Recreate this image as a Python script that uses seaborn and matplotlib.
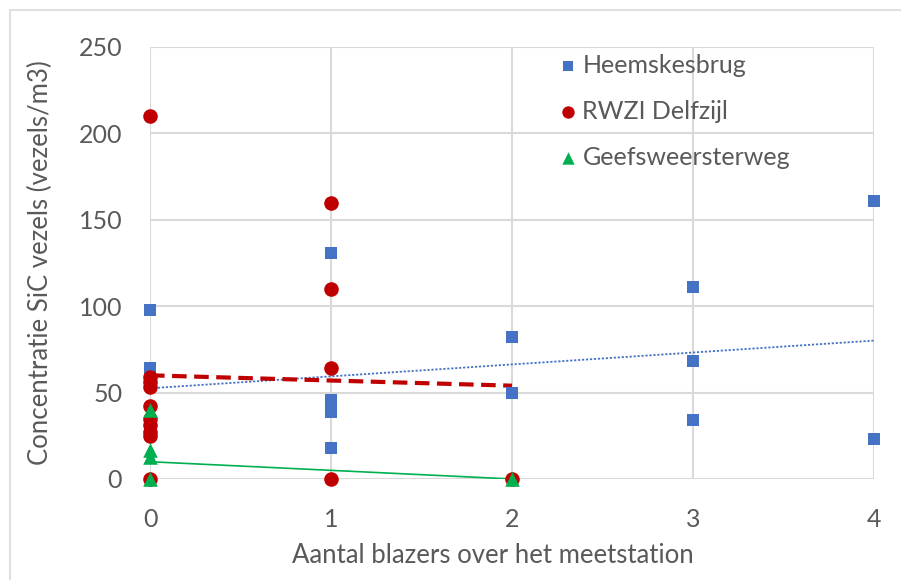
import numpy as np
import pandas as pd
import seaborn as sns
import matplotlib
matplotlib.use('Agg')
import matplotlib.pyplot as plt
from matplotlib.patches import Rectangle

# data
heems_x = [0, 0, 1, 1, 1, 1, 1, 2, 2, 3, 3, 3, 4, 4]
heems_y = [98, 64, 131, 46, 42, 39, 18, 82, 50, 111, 68, 34, 161, 23]

delf_x = [0, 0, 0, 0, 0, 0, 0, 0, 0, 0, 1, 1, 1, 1, 2]
delf_y = [210, 59, 56, 53, 42, 35, 31, 27, 25, 0, 160, 110, 64, 0, 0]

geef_x = [0, 0, 0, 0, 2]
geef_y = [40, 17, 13, 0, 0]

# linear trendlines (intercept, slope, x-range)
trend_heems = [52.5, 6.9, 0, 4]
trend_delf = [60.0, -3.0, 0, 2]
trend_geef = [10.0, -5.0, 0, 2]

stations = ['Heemskesbrug', 'RWZI Delfzijl', 'Geefsweersterweg']
kleuren = ['#4472C4', '#C00000', '#00B050']
markers = ['s', 'o', '^']
groottes = [70, 110, 110]

sns.set_theme(style='white')
plt.rcParams['font.family'] = ['Lato', 'DejaVu Sans']

fig = plt.figure(figsize=(9.01, 5.80), dpi=100)
ax = fig.add_axes([150 / 901, 1 - 479 / 580, 724 / 901, 432 / 580])

fig.patches.append(Rectangle((10 / 901, -0.1), 1.2, (1 - 10 / 580) + 0.1,
                             transform=fig.transFigure, fill=False,
                             edgecolor='#d9d9d9', lw=1.2))

df = pd.DataFrame({
    'x': heems_x + delf_x + geef_x,
    'y': heems_y + delf_y + geef_y,
    'station': [stations[0]] * len(heems_x) + [stations[1]] * len(delf_x) + [stations[2]] * len(geef_x),
})

for st, kl, mk, s in zip(stations, kleuren, markers, groottes):
    sns.scatterplot(data=df[df.station == st], x='x', y='y', color=kl, marker=mk,
                    s=s, linewidth=0, label=st, ax=ax, clip_on=False, zorder=3)

# trendlines
for tr, kl, ls, lw in zip([trend_heems, trend_delf, trend_geef], kleuren,
                          [(0, (1.2, 1.0)), (0, (3.5, 1.8)), '-'], [1.3, 3.0, 1.2]):
    xs = np.array([tr[2], tr[3]])
    ax.plot(xs, tr[0] + tr[1] * xs, color=kl, ls=ls, lw=lw, zorder=2)

ax.set_xlim(0, 4)
ax.set_ylim(0, 250)
ax.set_xticks([0, 1, 2, 3, 4])
ax.set_yticks([0, 50, 100, 150, 200, 250])
ax.grid(True, color='#d9d9d9', lw=1.5)
ax.set_axisbelow(True)
for sp in ax.spines.values():
    sp.set_visible(False)
ax.tick_params(axis='both', length=0, labelsize=18, labelcolor='#595959')
ax.tick_params(axis='y', pad=20)
ax.tick_params(axis='x', pad=21)

ax.set_xlabel('Aantal blazers over het meetstation', fontsize=18.5, color='#595959')
ax.set_ylabel('Concentratie SiC vezels (vezels/m3)', fontsize=18.5, color='#595959')
ax.xaxis.set_label_coords((493 - 150) / 724, -(64 / 432))
ax.yaxis.set_label_coords(-(150 - 53) / 724, 0.5)

leg = ax.legend(loc='upper left', bbox_to_anchor=(380 / 724, 1.036), frameon=False,
                fontsize=18, labelcolor='#595959', handletextpad=0.0,
                labelspacing=0.92, markerscale=0.85, handlelength=1.2)

fig.savefig('out.png', dpi=100)
